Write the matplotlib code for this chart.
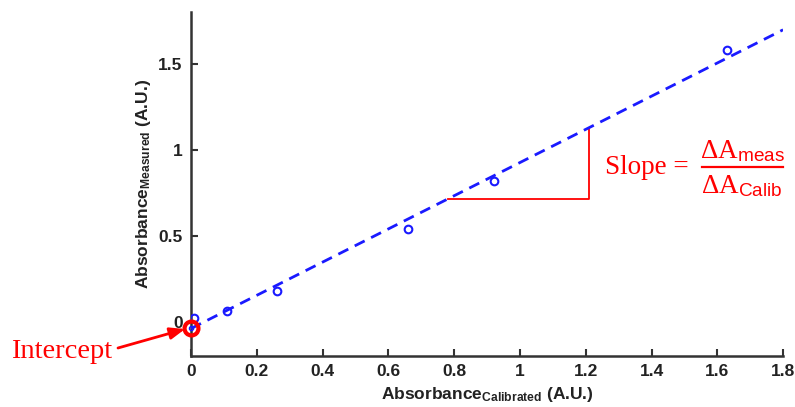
import matplotlib

matplotlib.use("Agg")
import matplotlib.pyplot as plt
import numpy as np
from matplotlib.lines import Line2D
from matplotlib.ticker import FuncFormatter

# calibration data: measured vs. calibrated absorbance
abs_calibrated = [0.01, 0.11, 0.26, 0.66, 0.92, 1.63]
abs_measured = [0.02, 0.06, 0.18, 0.54, 0.82, 1.58]

# linear fit shown on the plot
fit_intercept = -0.04
fit_slope = 0.965

# span of the slope triangle along the calibrated axis
tri_x = [0.78, 1.21]

x_ticks = [0, 0.2, 0.4, 0.6, 0.8, 1.0, 1.2, 1.4, 1.6, 1.8]
y_ticks = [0, 0.5, 1.0, 1.5]

RED = "#ff0000"
BLUE = "#1a1aff"
AXC = "#333333"
W, H = 795, 407

plt.rcParams["mathtext.fontset"] = "custom"
plt.rcParams["mathtext.rm"] = "Liberation Serif"
plt.rcParams["mathtext.it"] = "Liberation Serif:italic"
plt.rcParams["mathtext.bf"] = "Liberation Sans:bold"
plt.rcParams["mathtext.sf"] = "Liberation Sans"


def fit(x):
    return fit_intercept + fit_slope * np.asarray(x)


def px(x, y):
    """pixel position measured from the top-left -> figure fraction"""
    return x / W, 1 - y / H


fig = plt.figure(figsize=(W / 100, H / 100), dpi=100)
ax = fig.add_axes([0.2403, 0.1253, 0.7447, 0.845])

xs = np.array([0.0, 1.8])
ax.plot(xs, fit(xs), color=BLUE, lw=2.0, ls=(0, (4, 2.6)), zorder=3)
ax.plot(abs_calibrated, abs_measured, ls="none", marker="o", ms=5.5,
        mfc="none", mec=BLUE, mew=1.5, zorder=4)

# slope triangle
y0, y1 = fit(tri_x)
ax.plot([tri_x[0], tri_x[1], tri_x[1]], [y0, y0, y1], color=RED, lw=1.3,
        zorder=2, clip_on=False)

# intercept marker
ax.plot([0], [fit_intercept], ls="none", marker="o", ms=10, mfc="none",
        mec=RED, mew=3, zorder=5, clip_on=False)
ax.plot([0], [fit_intercept], ls="none", marker="o", ms=3, mfc="none",
        mec=BLUE, mew=1, zorder=6, clip_on=False)

fig.text(*px(62, 352), "Intercept", ha="center", va="center", color=RED,
         fontsize=20.5, family="Liberation Serif")
ax.annotate("", xy=(-0.018, fit_intercept - 0.003),
            xytext=px(118, 348), textcoords="figure fraction",
            arrowprops=dict(arrowstyle="-|>,head_length=0.9,head_width=0.35",
                            color=RED, lw=2, shrinkA=0, shrinkB=0),
            annotation_clip=False)

# slope formula: "Slope =" then a stacked fraction
fig.text(*px(605, 174), "Slope =", color=RED, fontsize=19.5,
         family="Liberation Serif", ha="left", va="baseline")
fig.text(*px(742, 151), r"$\Delta\mathrm{A}_{\mathsf{meas}}$", color=RED,
         fontsize=19.5, ha="center", va="center")
fig.text(*px(742, 186), r"$\Delta\mathrm{A}_{\mathsf{Calib}}$", color=RED,
         fontsize=19.5, ha="center", va="center")
bx0, by = px(702, 167)
bx1, _ = px(783, 167)
fig.add_artist(Line2D([bx0, bx1], [by, by], color=RED, lw=1.6,
                      transform=fig.transFigure))

ax.set_xlim(0, 1.8)
ax.set_ylim(-0.2, 1.8)
ax.set_xticks(x_ticks)
ax.set_yticks(y_ticks)
ax.xaxis.set_major_formatter(FuncFormatter(lambda v, p: f"{v:g}"))
ax.yaxis.set_major_formatter(FuncFormatter(lambda v, p: f"{v:g}"))

for s in ["top", "right"]:
    ax.spines[s].set_visible(False)
for s in ["left", "bottom"]:
    ax.spines[s].set_color(AXC)
    ax.spines[s].set_linewidth(1.8)

ax.tick_params(direction="in", length=5, width=1.5, color=AXC,
               labelsize=12.5, labelcolor="#222222", pad=6)
for lab in ax.get_xticklabels() + ax.get_yticklabels():
    lab.set_fontweight("bold")
    lab.set_family("Liberation Sans")

ax.set_xlabel(r"Absorbance$_{\mathbf{Calibrated}}$ (A.U.)", fontsize=12.5,
              fontweight="bold", family="Liberation Sans", color="#222222",
              labelpad=4)
ax.set_ylabel(r"Absorbance$_{\mathbf{Measured}}$ (A.U.)", fontsize=12.5,
              fontweight="bold", family="Liberation Sans", color="#222222",
              labelpad=4)

fig.savefig("out.png", dpi=100)
